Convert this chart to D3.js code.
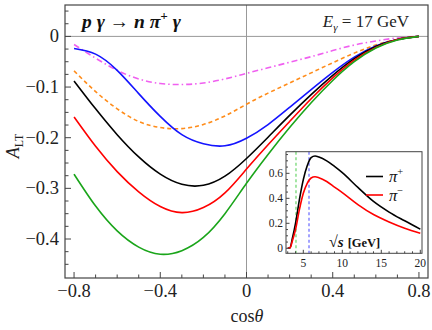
<!DOCTYPE html>
<html>
<head>
<meta charset="utf-8">
<script src="https://cdn.jsdelivr.net/npm/d3@7"></script>
<style>
	html, body { margin: 0; padding: 0; background: #fff; }
	svg { display: block; font-family: "Liberation Serif", "DejaVu Serif", serif; }
</style>
</head>
<body>
<div class="svg-container"></div>
<script>
// main panel: A_LT vs cos(theta), E_gamma = 17 GeV
var cos_theta 	= [ -0.8, -0.7, -0.6, -0.5, -0.4, -0.3, -0.2, -0.1, 0, 0.1, 0.2, 0.3, 0.4, 0.5, 0.6, 0.7, 0.8 ];
var a_magenta 	= [ -0.016, -0.043, -0.067, -0.084, -0.093, -0.095, -0.092, -0.084, -0.073, -0.062, -0.051, -0.040, -0.028, -0.017, -0.009, -0.003, 0 ];
var a_orange 	= [ -0.068, -0.109, -0.143, -0.168, -0.180, -0.182, -0.174, -0.157, -0.134, -0.112, -0.092, -0.072, -0.052, -0.033, -0.017, -0.006, 0 ];
var a_blue 		= [ -0.024, -0.035, -0.067, -0.113, -0.158, -0.194, -0.212, -0.216, -0.201, -0.174, -0.140, -0.105, -0.071, -0.041, -0.019, -0.006, 0 ];
var a_black 	= [ -0.088, -0.143, -0.194, -0.238, -0.272, -0.292, -0.294, -0.276, -0.241, -0.199, -0.156, -0.115, -0.077, -0.044, -0.020, -0.006, 0 ];
var a_red 		= [ -0.159, -0.217, -0.267, -0.307, -0.336, -0.348, -0.338, -0.309, -0.262, -0.214, -0.168, -0.123, -0.082, -0.047, -0.022, -0.006, 0 ];
var a_green 	= [ -0.272, -0.335, -0.384, -0.416, -0.430, -0.423, -0.397, -0.350, -0.290, -0.233, -0.180, -0.131, -0.087, -0.050, -0.023, -0.007, 0 ];

var x_ticks 	= [ -0.8, -0.4, 0, 0.4, 0.8 ];
var x_labels 	= [ "\u22120.8", "\u22120.4", "0", "0.4", "0.8" ];
var y_ticks 	= [ 0, -0.1, -0.2, -0.3, -0.4 ];
var y_labels 	= [ "0", "\u22120.1", "\u22120.2", "\u22120.3", "\u22120.4" ];

// inset: vs sqrt(s)
var sqrt_s 		= [ 3, 3.3, 3.6, 4, 4.5, 5, 5.5, 6, 6.5, 7, 8, 9, 10, 12, 14, 16, 18, 20 ];
var inset_plus 	= [ 0, 0.005, 0.08, 0.20, 0.39, 0.55, 0.66, 0.725, 0.738, 0.73, 0.70, 0.655, 0.605, 0.487, 0.375, 0.29, 0.22, 0.153 ];
var inset_minus = [ 0, 0.005, 0.06, 0.15, 0.31, 0.44, 0.52, 0.563, 0.572, 0.565, 0.535, 0.49, 0.445, 0.35, 0.27, 0.21, 0.16, 0.12 ];
var inset_vlines = [ 4.06, 5.73 ];
var inset_x_ticks = [ 5, 10, 15, 20 ];
var inset_y_ticks = [ 0, 0.2, 0.4, 0.6 ];

(function () {

	"use strict";

	var frame_color = "#444";

	var container 	= d3.select(".svg-container"),
		margin 		= { "top": 5, "right": 4, "bottom": 52, "left": 65 },
		width 		= 432 - margin.left - margin.right,
		height 		= 330 - margin.top - margin.bottom;

	var svg = container.append("svg")
		.attr("width", 432)
		.attr("height", 330);

	var g = svg.append("g")
		.attr("transform", "translate(" + margin.left + "," + margin.top + ")");

	var x = d3.scaleLinear().domain([ -0.842, 0.842 ]).range([ 0, width ]);
	var y = d3.scaleLinear().domain([ -0.477, 0.062 ]).range([ height, 0 ]);

	// zero lines
	g.append("line")
		.attr("x1", 0).attr("x2", width)
		.attr("y1", y(0)).attr("y2", y(0))
		.attr("stroke", "#999").attr("stroke-width", 1);
	g.append("line")
		.attr("x1", x(0)).attr("x2", x(0))
		.attr("y1", 0).attr("y2", height)
		.attr("stroke", "#999").attr("stroke-width", 1);

	var series = [
		{ vals: a_magenta, color: "#f060f0", dash: "6,3,1.5,3" },
		{ vals: a_orange, color: "#ff8c1a", dash: "4,3" },
		{ vals: a_blue, color: "#1414ff", dash: null },
		{ vals: a_black, color: "#000", dash: null },
		{ vals: a_red, color: "#ff0000", dash: null },
		{ vals: a_green, color: "#1aa51a", dash: null }
	];

	var line = d3.line()
		.x(function ( d ) { return x(d[0]); })
		.y(function ( d ) { return y(d[1]); })
		.curve(d3.curveNatural);

	g.selectAll(".curve")
		.data(series)
		.enter()
		.append("path")
		.attr("class", "curve")
		.attr("fill", "none")
		.attr("stroke", function ( d ) { return d.color; })
		.attr("stroke-width", 1.6)
		.attr("stroke-dasharray", function ( d ) { return d.dash; })
		.attr("d", function ( d ) { return line(cos_theta.map(function ( c, i ) { return [ c, d.vals[i] ]; })); });

	// frame
	g.append("rect")
		.attr("width", width).attr("height", height)
		.attr("fill", "none").attr("stroke", frame_color).attr("stroke-width", 1.2);

	// ticks, pointing inward
	var x_minor = d3.range(-8, 9).map(function ( i ) { return i / 10; });
	var y_minor = d3.range(-18, 3).map(function ( i ) { return i * 0.025; });

	g.selectAll(".xtick")
		.data(x_minor)
		.enter()
		.append("line")
		.attr("x1", function ( d ) { return x(d); })
		.attr("x2", function ( d ) { return x(d); })
		.attr("y1", height)
		.attr("y2", function ( d, i ) { return height - (i % 4 === 0 ? 6 : 3.5); })
		.attr("stroke", frame_color);

	g.selectAll(".ytick")
		.data(y_minor)
		.enter()
		.append("line")
		.attr("x1", 0)
		.attr("x2", function ( d ) { return Math.abs(Math.round(d * 1000) % 100) === 0 ? 6 : 3.5; })
		.attr("y1", function ( d ) { return y(d); })
		.attr("y2", function ( d ) { return y(d); })
		.attr("stroke", frame_color);

	g.selectAll(".xlabel")
		.data(x_ticks)
		.enter()
		.append("text")
		.attr("x", function ( d ) { return x(d); })
		.attr("y", height + 19)
		.attr("text-anchor", "middle")
		.attr("font-size", 18.5)
		.attr("fill", "#222")
		.text(function ( d, i ) { return x_labels[i]; });

	g.selectAll(".ylabel")
		.data(y_ticks)
		.enter()
		.append("text")
		.attr("x", -6)
		.attr("y", function ( d ) { return y(d) + 6; })
		.attr("text-anchor", "end")
		.attr("font-size", 18.5)
		.attr("fill", "#222")
		.text(function ( d, i ) { return y_labels[i]; });

	// axis titles
	var xt = svg.append("text")
		.attr("x", 247)
		.attr("y", 322)
		.attr("text-anchor", "middle")
		.attr("font-size", 18)
		.attr("fill", "#222");
	xt.append("tspan").text("cos");
	xt.append("tspan").attr("font-style", "italic").text("\u03b8");

	var yt = svg.append("text")
		.attr("transform", "translate(19,146) rotate(-90)")
		.attr("text-anchor", "middle")
		.attr("font-size", 18)
		.attr("fill", "#222");
	yt.append("tspan").attr("font-style", "italic").text("A");
	yt.append("tspan").attr("font-size", 12).attr("dy", 4).text("LT");

	// title and energy
	var title = svg.append("text")
		.attr("x", 82)
		.attr("y", 28)
		.attr("font-size", 19.5)
		.attr("font-weight", "bold")
		.attr("font-style", "italic")
		.attr("fill", "#111");
	title.append("tspan").text("p \u03b3 \u2192 n \u03c0");
	title.append("tspan").attr("font-size", 13).attr("dy", -8).text("+");
	title.append("tspan").attr("dy", 8).text(" \u03b3");

	var en = svg.append("text")
		.attr("x", 409)
		.attr("y", 27)
		.attr("text-anchor", "end")
		.attr("font-size", 17)
		.attr("fill", "#222");
	en.append("tspan").attr("font-style", "italic").text("E");
	en.append("tspan").attr("font-style", "italic").attr("font-size", 11).attr("dy", 4).text("\u03b3");
	en.append("tspan").attr("dy", -4).text(" = 17 GeV");

	// ---- inset ----
	var ix = d3.scaleLinear().domain([ 2.78, 20.22 ]).range([ 286, 422 ]);
	var iy = d3.scaleLinear().domain([ -0.04, 0.773 ]).range([ 253.3, 151.7 ]);

	var inset = svg.append("g").attr("class", "inset");

	inset.append("rect")
		.attr("x", 286).attr("y", 151.7)
		.attr("width", 136).attr("height", 101.6)
		.attr("fill", "#fff");

	inset.selectAll(".vline")
		.data(inset_vlines)
		.enter()
		.append("line")
		.attr("x1", function ( d ) { return ix(d); })
		.attr("x2", function ( d ) { return ix(d); })
		.attr("y1", 151.7).attr("y2", 253.3)
		.attr("stroke", function ( d, i ) { return i === 0 ? "#8ee08e" : "#8c8cff"; })
		.attr("stroke-width", 1.6)
		.attr("stroke-dasharray", "3,2.5");

	var iline = d3.line()
		.x(function ( d ) { return ix(d[0]); })
		.y(function ( d ) { return iy(d[1]); })
		.curve(d3.curveMonotoneX);

	inset.selectAll(".icurve")
		.data([ { vals: inset_plus, color: "#000" }, { vals: inset_minus, color: "#ff0000" } ])
		.enter()
		.append("path")
		.attr("fill", "none")
		.attr("stroke", function ( d ) { return d.color; })
		.attr("stroke-width", 1.6)
		.attr("d", function ( d ) { return iline(sqrt_s.map(function ( s, i ) { return [ s, d.vals[i] ]; })); });

	inset.append("rect")
		.attr("x", 286).attr("y", 151.7)
		.attr("width", 136).attr("height", 101.6)
		.attr("fill", "none").attr("stroke", frame_color).attr("stroke-width", 1);

	inset.selectAll(".ixtick")
		.data(d3.range(3, 21))
		.enter()
		.append("line")
		.attr("x1", function ( d ) { return ix(d); })
		.attr("x2", function ( d ) { return ix(d); })
		.attr("y1", 253.3)
		.attr("y2", function ( d ) { return 253.3 - (d % 5 === 0 ? 3.5 : 2); })
		.attr("stroke", frame_color);

	inset.selectAll(".iytick")
		.data(d3.range(0, 16).map(function ( i ) { return i * 0.05; }))
		.enter()
		.append("line")
		.attr("x1", 286)
		.attr("x2", function ( d, i ) { return 286 + (i % 4 === 0 ? 3.5 : 2); })
		.attr("y1", function ( d ) { return iy(d); })
		.attr("y2", function ( d ) { return iy(d); })
		.attr("stroke", frame_color);

	inset.selectAll(".ixlabel")
		.data(inset_x_ticks)
		.enter()
		.append("text")
		.attr("x", function ( d ) { return ix(d); })
		.attr("y", 267)
		.attr("text-anchor", "middle")
		.attr("font-size", 11.5)
		.attr("fill", "#222")
		.text(function ( d ) { return d; });

	inset.selectAll(".iylabel")
		.data(inset_y_ticks)
		.enter()
		.append("text")
		.attr("x", 283)
		.attr("y", function ( d ) { return iy(d) + 4; })
		.attr("text-anchor", "end")
		.attr("font-size", 11.5)
		.attr("fill", "#222")
		.text(function ( d ) { return d === 0 ? "0" : d.toFixed(1); });

	// legend
	var legend = [ { y: 176.5, color: "#000", sign: "+" }, { y: 195, color: "#ff0000", sign: "\u2212" } ];

	legend.forEach(function ( d ) {
		inset.append("line")
			.attr("x1", 366).attr("x2", 383)
			.attr("y1", d.y).attr("y2", d.y)
			.attr("stroke", d.color).attr("stroke-width", 1.6);
		var t = inset.append("text")
			.attr("x", 389).attr("y", d.y + 5.5)
			.attr("font-size", 16.5)
			.attr("font-style", "italic")
			.attr("fill", "#111");
		t.append("tspan").text("\u03c0");
		t.append("tspan").attr("font-size", 10.5).attr("dy", -7).attr("font-style", "normal").text(d.sign);
	});

	var sl = inset.append("text")
		.attr("x", 329).attr("y", 247)
		.attr("font-weight", "bold")
		.attr("fill", "#111");
	sl.append("tspan").attr("font-size", 16).text("\u221a");
	sl.append("tspan").attr("font-size", 15).attr("font-style", "italic").text("s");
	sl.append("tspan").attr("font-size", 12.5).attr("dx", 4).text("[GeV]");

})();
</script>
</body>
</html>
